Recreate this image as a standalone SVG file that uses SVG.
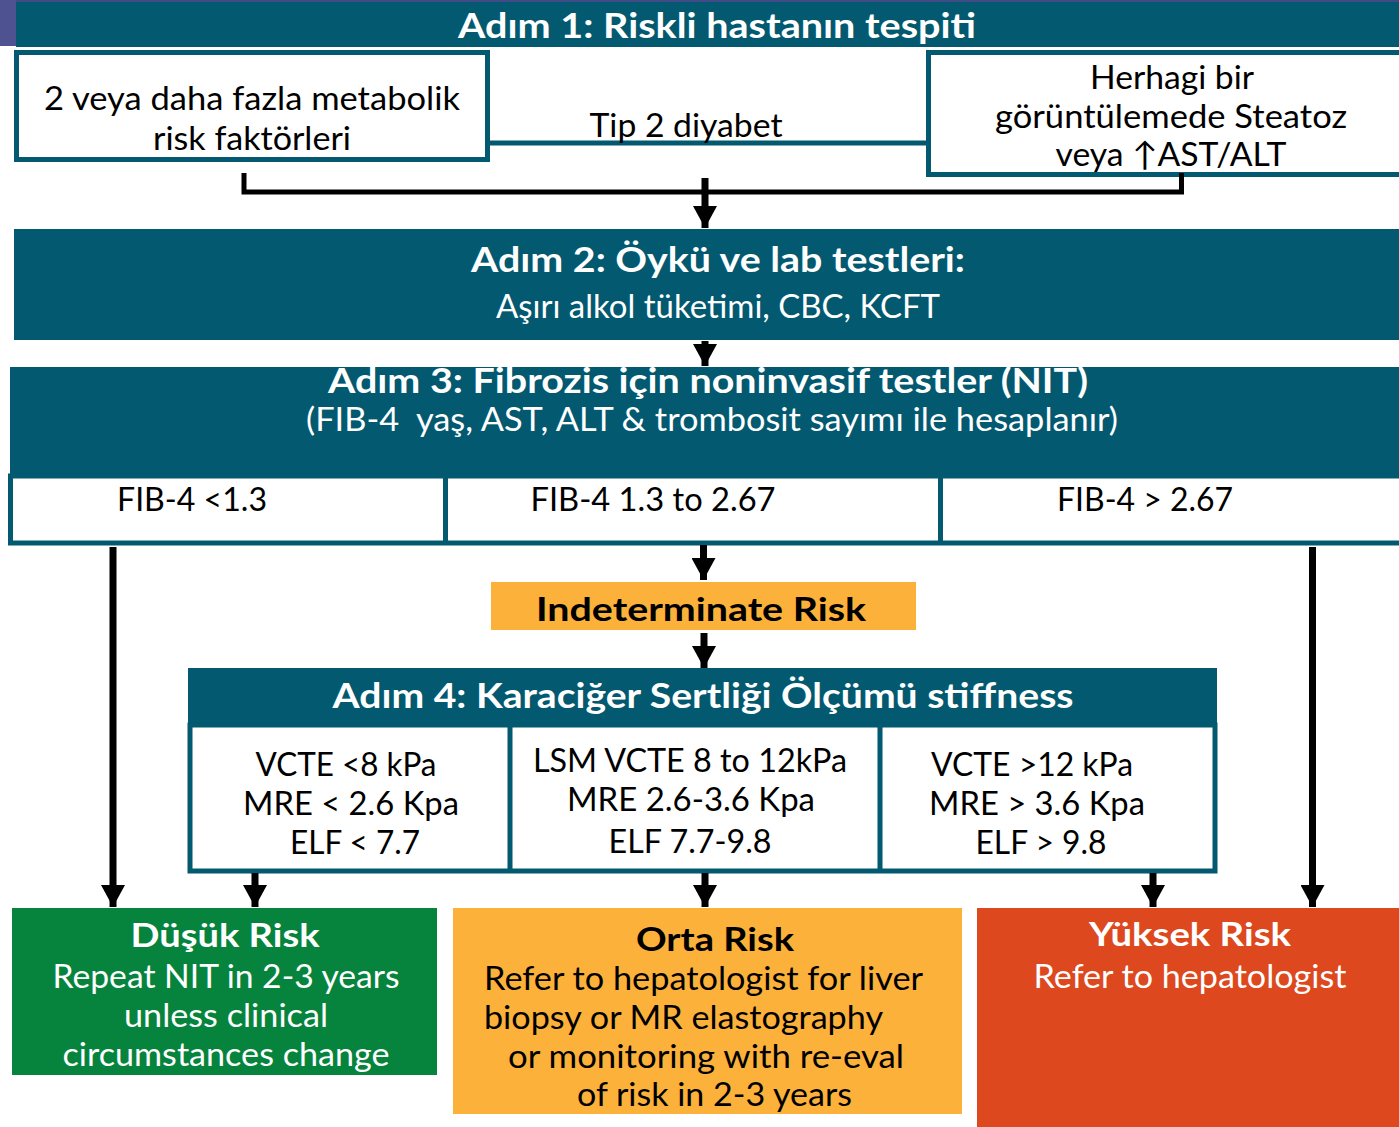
<svg xmlns="http://www.w3.org/2000/svg" width="1399" height="1127" viewBox="0 0 1399 1127">
  <style>
    text { font-family: Lato, "DejaVu Sans", sans-serif; }
    .hd { font-weight: bold; font-size: 34px; fill: #ffffff; text-anchor: middle; }
    .sub { font-size: 32px; fill: #ffffff; text-anchor: middle; }
    .bk { font-size: 33px; fill: #000000; text-anchor: middle; }
    .bks { font-size: 33px; fill: #000000; }
    .wt { font-size: 33px; fill: #ffffff; text-anchor: middle; }
    .bold { font-weight: bold; }
    .bar { fill: #03596f; }
    .frame { fill: #ffffff; stroke: #03596f; stroke-width: 5; }
    .div { stroke: #03596f; stroke-width: 5; }
    .arrow { stroke: #000000; stroke-width: 7; fill: none; marker-end: url(#head); }
  </style>
  <defs>
    <marker id="head" markerUnits="userSpaceOnUse" viewBox="0 0 22 24" markerWidth="22" markerHeight="24" refX="22" refY="12" orient="auto">
      <path d="M0,0 L22,12 L0,24 Z" fill="#000000"/>
    </marker>
  </defs>

  <rect x="0" y="0" width="1399" height="1127" fill="#ffffff"/>

  <!-- Step 1 header -->
  <g id="step1">
    <rect x="0" y="0" width="1399" height="2" fill="#3f4a86"/>
    <rect x="0" y="0" width="16" height="46" fill="#4f5291"/>
    <rect class="bar" x="16" y="2" width="1383" height="45"/>
    <text class="hd" x="717" y="38" textLength="518" lengthAdjust="spacingAndGlyphs">Adım 1: Riskli hastanın tespiti</text>
  </g>

  <!-- Step 1 criteria -->
  <g id="crit-diabetes">
    <path d="M487.5,50 V143 H928.5 V50" fill="#ffffff" stroke="#03596f" stroke-width="5"/>
    <text class="bk" x="686" y="137" textLength="193" lengthAdjust="spacingAndGlyphs">Tip 2 diyabet</text>
  </g>
  <g id="crit-metabolic">
    <rect class="frame" x="16.5" y="52.5" width="471" height="107"/>
    <text class="bk" x="252" y="110" textLength="416" lengthAdjust="spacingAndGlyphs">2 veya daha fazla metabolik</text>
    <text class="bk" x="252" y="150" textLength="198" lengthAdjust="spacingAndGlyphs">risk faktörleri</text>
  </g>
  <g id="crit-steatosis">
    <rect class="frame" x="928.5" y="52.5" width="480" height="122"/>
    <text class="bk" x="1172" y="89" textLength="164" lengthAdjust="spacingAndGlyphs">Herhagi bir</text>
    <text class="bk" x="1171" y="128" textLength="352" lengthAdjust="spacingAndGlyphs">görüntülemede Steatoz</text>
    <text class="bk" x="1171" y="166" textLength="231" lengthAdjust="spacingAndGlyphs">veya ↑AST/ALT</text>
  </g>

  <!-- Step 2 -->
  <g id="step2">
    <rect class="bar" x="14" y="229" width="1385" height="111"/>
    <text class="hd" x="718" y="272" textLength="494" lengthAdjust="spacingAndGlyphs">Adım 2: Öykü ve lab testleri:</text>
    <text class="sub" x="718" y="318" textLength="444" lengthAdjust="spacingAndGlyphs">Aşırı alkol tüketimi, CBC, KCFT</text>
  </g>

  <!-- Step 3 -->
  <g id="step3">
    <rect class="bar" x="10" y="367" width="1389" height="110"/>
    <text class="hd" x="708" y="393" textLength="760" lengthAdjust="spacingAndGlyphs">Adım 3: Fibrozis için noninvasif testler (NIT)</text>
    <text class="sub" x="712" y="431" font-size="31" xml:space="preserve" textLength="812" lengthAdjust="spacingAndGlyphs">(FIB-4  yaş, AST, ALT &amp; trombosit sayımı ile hesaplanır)</text>
  </g>
  <g id="fib-row">
    <rect x="10.5" y="476" width="1395" height="67" fill="#ffffff" stroke="#03596f" stroke-width="5"/>
    <line class="div" x1="445.5" y1="476" x2="445.5" y2="543"/>
    <line class="div" x1="940.5" y1="476" x2="940.5" y2="543"/>
    <text class="bk" x="192" y="511" textLength="150" lengthAdjust="spacingAndGlyphs">FIB-4 &lt;1.3</text>
    <text class="bk" x="653" y="511" textLength="245" lengthAdjust="spacingAndGlyphs">FIB-4 1.3 to 2.67</text>
    <text class="bk" x="1145" y="511" textLength="176" lengthAdjust="spacingAndGlyphs">FIB-4 &gt; 2.67</text>
  </g>

  <!-- Indeterminate -->
  <g id="indeterminate">
    <rect x="491" y="582" width="425" height="48" fill="#fbb13a"/>
    <text class="bk bold" x="701" y="621" textLength="330" lengthAdjust="spacingAndGlyphs">Indeterminate Risk</text>
  </g>

  <!-- Step 4 -->
  <g id="step4">
    <rect class="bar" x="188" y="668" width="1029" height="58"/>
    <text class="hd" x="703" y="708" textLength="741" lengthAdjust="spacingAndGlyphs">Adım 4: Karaciğer Sertliği Ölçümü stiffness</text>
    <rect x="190" y="725" width="1025" height="146" fill="#ffffff" stroke="#03596f" stroke-width="5"/>
    <line class="div" x1="510" y1="725" x2="510" y2="871"/>
    <line class="div" x1="880" y1="725" x2="880" y2="871"/>
    <text class="bk" x="346" y="776" textLength="181" lengthAdjust="spacingAndGlyphs">VCTE &lt;8 kPa</text>
    <text class="bk" x="351" y="815" textLength="216" lengthAdjust="spacingAndGlyphs">MRE &lt; 2.6 Kpa</text>
    <text class="bk" x="355" y="854" textLength="130" lengthAdjust="spacingAndGlyphs">ELF &lt; 7.7</text>
    <text class="bk" x="690" y="772" textLength="314" lengthAdjust="spacingAndGlyphs">LSM VCTE 8 to 12kPa</text>
    <text class="bk" x="691" y="811" textLength="248" lengthAdjust="spacingAndGlyphs">MRE 2.6-3.6 Kpa</text>
    <text class="bk" x="690" y="853" textLength="163" lengthAdjust="spacingAndGlyphs">ELF 7.7-9.8</text>
    <text class="bk" x="1032" y="776" textLength="202" lengthAdjust="spacingAndGlyphs">VCTE &gt;12 kPa</text>
    <text class="bk" x="1037" y="815" textLength="216" lengthAdjust="spacingAndGlyphs">MRE &gt; 3.6 Kpa</text>
    <text class="bk" x="1041" y="854" textLength="131" lengthAdjust="spacingAndGlyphs">ELF &gt; 9.8</text>
  </g>

  <!-- Outcomes -->
  <g id="low-risk">
    <rect x="12" y="908" width="425" height="167" fill="#06843d"/>
    <text class="wt bold" x="225" y="947" textLength="189" lengthAdjust="spacingAndGlyphs">Düşük Risk</text>
    <text class="wt" x="226" y="988" textLength="347" lengthAdjust="spacingAndGlyphs">Repeat NIT in 2-3 years</text>
    <text class="wt" x="226" y="1027" textLength="204" lengthAdjust="spacingAndGlyphs">unless clinical</text>
    <text class="wt" x="226" y="1066" textLength="327" lengthAdjust="spacingAndGlyphs">circumstances change</text>
  </g>
  <g id="mid-risk">
    <rect x="453" y="908" width="509" height="206" fill="#fbb13a"/>
    <text class="bk bold" x="715" y="951" textLength="158" lengthAdjust="spacingAndGlyphs">Orta Risk</text>
    <text class="bks" x="484" y="990" textLength="439" lengthAdjust="spacingAndGlyphs">Refer to hepatologist for liver</text>
    <text class="bks" x="484" y="1029" textLength="399" lengthAdjust="spacingAndGlyphs">biopsy or MR elastography</text>
    <text class="bks" x="508" y="1068" textLength="396" lengthAdjust="spacingAndGlyphs">or monitoring with re-eval</text>
    <text class="bks" x="577" y="1106" textLength="275" lengthAdjust="spacingAndGlyphs">of risk in 2-3 years</text>
  </g>
  <g id="high-risk">
    <rect x="977" y="908" width="422" height="219" fill="#dd481e"/>
    <text class="wt bold" x="1190" y="946" textLength="202" lengthAdjust="spacingAndGlyphs">Yüksek Risk</text>
    <text class="wt" x="1190" y="988" textLength="313" lengthAdjust="spacingAndGlyphs">Refer to hepatologist</text>
  </g>

  <!-- Connectors -->
  <g id="connectors">
    <polyline points="244,173 244,192 1181.5,192 1181.5,173" fill="none" stroke="#000000" stroke-width="5"/>
    <line class="arrow" x1="705" y1="178" x2="705" y2="228"/>
    <line class="arrow" x1="705" y1="341" x2="705" y2="366"/>
    <line class="arrow" x1="703.5" y1="545" x2="703.5" y2="580"/>
    <line class="arrow" x1="704" y1="633" x2="704" y2="668"/>
    <line class="arrow" x1="113" y1="547" x2="113" y2="907"/>
    <line class="arrow" x1="1312.5" y1="547" x2="1312.5" y2="907"/>
    <line class="arrow" x1="255" y1="873" x2="255" y2="907"/>
    <line class="arrow" x1="705" y1="873" x2="705" y2="907"/>
    <line class="arrow" x1="1153" y1="873" x2="1153" y2="907"/>
  </g>
</svg>
